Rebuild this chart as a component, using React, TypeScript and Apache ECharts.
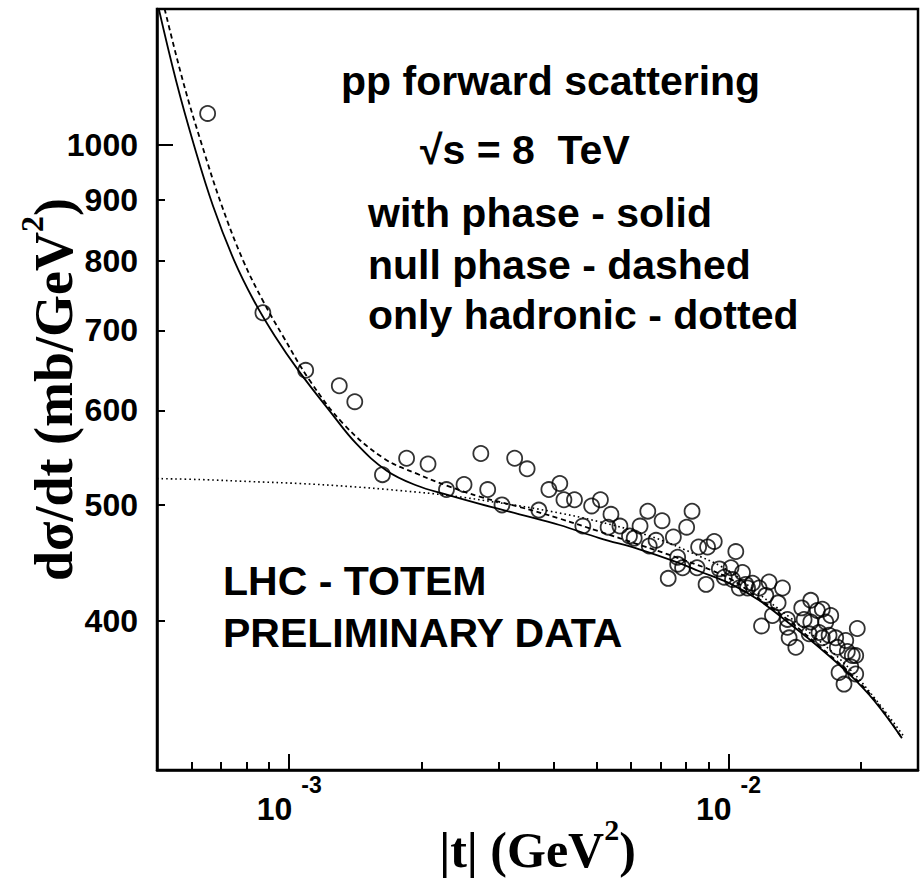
import React, { useEffect, useRef } from "react";
import * as echarts from "echarts";

// ---- measured data (|t| in GeV^2, dσ/dt in mb/GeV^2) ----
const tValues = [
  6.52e-4, 8.71e-4, 1.09e-3, 1.3e-3, 1.41e-3, 1.63e-3, 1.85e-3, 2.07e-3, 2.28e-3, 2.5e-3,
  2.73e-3, 2.83e-3, 3.05e-3, 3.26e-3, 3.48e-3, 3.7e-3, 3.9e-3, 4.13e-3, 4.22e-3, 4.46e-3,
  4.66e-3, 4.88e-3, 5.11e-3, 5.4e-3, 5.32e-3, 5.66e-3, 5.95e-3, 6.1e-3, 6.29e-3, 6.55e-3,
  7.06e-3, 8.26e-3, 8.03e-3, 7.49e-3, 6.84e-3, 6.6e-3, 8.55e-3, 8.96e-3, 9.28e-3, 1.039e-2,
  7.66e-3, 7.66e-3, 7.86e-3, 7.29e-3, 8.48e-3, 8.89e-3, 9.53e-3, 1.013e-2, 9.78e-3, 1.021e-2,
  1.076e-2, 1.095e-2, 1.058e-2, 1.134e-2, 1.105e-2, 1.174e-2, 1.237e-2, 1.327e-2, 1.216e-2, 1.297e-2,
  1.189e-2, 1.259e-2, 1.362e-2, 1.362e-2, 1.374e-2, 1.423e-2, 1.468e-2, 1.539e-2, 1.486e-2, 1.539e-2,
  1.593e-2, 1.635e-2, 1.709e-2, 1.665e-2, 1.607e-2, 1.526e-2, 1.694e-2, 1.754e-2, 1.964e-2, 1.849e-2,
  1.769e-2, 1.864e-2, 1.948e-2, 1.898e-2, 1.785e-2, 1.832e-2, 1.948e-2, 1.635e-2, 1.913e-2,
];
const dsdtValues = [
  1063, 724, 648, 629, 610, 530, 547, 541, 515, 520,
  552, 515, 500, 547, 536, 495, 515, 521, 505, 505,
  480, 499, 505, 491, 479, 480, 471, 469, 480, 494,
  485, 494, 479, 470, 467, 462, 461, 461, 466, 457,
  452, 446, 443, 434, 443, 429, 442, 443, 435, 433,
  439, 429, 426, 430, 426, 426, 431, 426, 420, 414,
  396, 404, 401, 395, 387, 380, 410, 416, 401, 399,
  408, 409, 404, 399, 391, 390, 389, 387, 394, 385,
  380, 377, 374, 366, 362, 354, 361, 387, 374,
];

// with phase - solid
const solidT = [
  5.0e-4, 5.53e-4, 6.07e-4, 6.71e-4, 7.49e-4, 8.31e-4, 9.28e-4, 1.052e-3, 1.237e-3, 1.425e-3,
  1.667e-3, 1.951e-3, 2.283e-3, 2.713e-3, 3.344e-3, 4.124e-3, 5.083e-3, 6.266e-3, 7.727e-3, 8.58e-3,
  1.004e-2, 1.174e-2, 1.374e-2, 1.607e-2, 1.881e-2, 2.144e-2, 2.482e-2,
];
const solidV = [
  1320, 1131, 1000, 889, 801, 741, 692, 647, 599, 562,
  534, 519, 510, 501, 491, 481, 469, 459, 447, 440,
  430, 416, 398, 380, 361, 343, 319,
];

// null phase - dashed
const dashedT = [
  5.15e-4, 5.73e-4, 6.33e-4, 7.03e-4, 7.85e-4, 8.71e-4, 9.68e-4, 1.115e-3, 1.331e-3, 1.641e-3,
  1.951e-3, 2.283e-3, 2.713e-3, 3.344e-3, 4.124e-3, 5.083e-3, 6.266e-3, 7.727e-3, 1.004e-2, 1.174e-2,
  1.374e-2, 1.607e-2, 1.881e-2, 2.144e-2, 2.482e-2,
];
const dashedV = [
  1321, 1131, 1000, 889, 801, 741, 692, 635, 584, 547,
  531, 519, 508, 498, 487, 475, 463, 451, 434, 417,
  400, 381, 362, 344, 319,
];

// only hadronic - dotted
const dottedT = [
  5.0e-4, 6.27e-4, 8.14e-4, 1.058e-3, 1.374e-3, 1.785e-3, 2.319e-3, 3.012e-3, 3.913e-3, 5.083e-3,
  6.604e-3, 8.58e-3, 1.004e-2, 1.174e-2, 1.374e-2, 1.607e-2, 1.881e-2, 2.2e-2, 2.508e-2,
];
const dottedV = [
  526, 525, 523, 521, 518, 514, 509, 502, 494, 484,
  471, 453, 440, 421, 403, 385, 365, 341, 320,
];

// axes
const X_MIN = 5e-4;
const X_MAX = 0.027;
const Y_MIN = 300;
const Y_MAX = 1300;
const xMajorTicks = [1e-3, 1e-2];
const xMinorTicks = [6e-4, 7e-4, 8e-4, 9e-4, 2e-3, 3e-3, 4e-3, 5e-3, 6e-3, 7e-3, 8e-3, 9e-3, 2e-2];
const yLabelValues = [400, 500, 600, 700, 800, 900, 1000];
const yMajorTicks = [1000];
const yMinorTicks = [400, 500, 600, 700, 800, 900];

// texts
const xTitle = ["|t| (GeV", "2", ")"];
const yTitle = ["dσ/dt (mb/GeV", "2", ")"];
const notes = [
  "pp forward scattering",
  "√s = 8  TeV",
  "with phase - solid",
  "null phase - dashed",
  "only hadronic - dotted",
  "LHC - TOTEM",
  "PRELIMINARY DATA",
];

const SANS = "'Liberation Sans', Arial, Helvetica, sans-serif";
const SERIF = "'Liberation Serif', 'Times New Roman', Times, serif";
const lg = (v: number) => Math.log10(v);

export default function App() {
  const ref = useRef<HTMLDivElement>(null);

  useEffect(() => {
    if (!ref.current) return;
    const chart = echarts.init(ref.current, null, { renderer: "svg" });

    const xTickBase = {
      type: "value",
      gridIndex: 0,
      min: lg(X_MIN),
      max: lg(X_MAX),
      position: "bottom",
      axisLine: { show: false },
      splitLine: { show: false },
      silent: true,
    };
    const yTickBase = {
      type: "value",
      gridIndex: 0,
      min: lg(Y_MIN),
      max: lg(Y_MAX),
      position: "left",
      axisLine: { show: false },
      splitLine: { show: false },
      silent: true,
    };
    const tickLine = { color: "#000", width: 2 };

    const noteStyle = (text: string) => ({
      text,
      fontFamily: SANS,
      fontWeight: "bold",
      fontSize: 41,
      fill: "#000",
      align: "left",
      verticalAlign: "middle",
    });
    const notePos = [
      [341, 81],
      [420, 150],
      [368, 213],
      [368, 265],
      [368, 315],
      [223, 581],
      [223, 633],
    ];

    const option: any = {
      animation: false,
      backgroundColor: "#fff",
      grid: {
        left: 157,
        right: 5,
        top: 9,
        bottom: 110,
        show: true,
        borderColor: "#000",
        borderWidth: 2.5,
        backgroundColor: "transparent",
        containLabel: false,
        outerBoundsMode: "none",
      },
      xAxis: [
        {
          type: "log",
          logBase: 10,
          min: X_MIN,
          max: X_MAX,
          position: "bottom",
          axisLine: { show: true, onZero: false, lineStyle: { color: "#000", width: 2.5 } },
          axisTick: { show: false },
          axisLabel: { show: false },
          minorTick: { show: false },
          splitLine: { show: false },
          name: `{a|${xTitle[0]}}{s|${xTitle[1]}}{a|${xTitle[2]}}`,
          nameLocation: "middle",
          nameGap: 44,
          nameMoveOverlap: false,
          nameTextStyle: {
            color: "#000",
            rich: {
              a: { fontFamily: SERIF, fontWeight: "bold", fontSize: 50, lineHeight: 72, color: "#000" },
              s: { fontFamily: SERIF, fontWeight: "bold", fontSize: 30, lineHeight: 30, verticalAlign: "top", color: "#000" },
            },
          },
        },
        {
          ...xTickBase,
          axisTick: { show: true, inside: true, length: 8, customValues: xMinorTicks.map(lg), lineStyle: tickLine },
          axisLabel: { show: false },
        },
        {
          ...xTickBase,
          axisTick: { show: true, inside: true, length: 16, customValues: xMajorTicks.map(lg), lineStyle: tickLine },
          axisLabel: {
            show: true,
            customValues: xMajorTicks.map(lg),
            margin: 3,
            formatter: (v: number) => `{b|10 }{s|${Math.round(v)}}`,
            rich: {
              b: { fontFamily: SANS, fontWeight: "bold", fontSize: 32, lineHeight: 72, color: "#000" },
              s: { fontFamily: SANS, fontWeight: "bold", fontSize: 23, lineHeight: 23, verticalAlign: "top", color: "#000" },
            },
          },
        },
      ],
      yAxis: [
        {
          type: "log",
          logBase: 10,
          min: Y_MIN,
          max: Y_MAX,
          position: "left",
          axisLine: { show: true, onZero: false, lineStyle: { color: "#000", width: 2.5 } },
          axisTick: { show: false },
          axisLabel: { show: false },
          minorTick: { show: false },
          splitLine: { show: false },
          name: `{a|${yTitle[0]}}{s|${yTitle[1]}}{a|${yTitle[2]}}`,
          nameLocation: "middle",
          nameRotate: 90,
          nameGap: 65,
          nameMoveOverlap: false,
          nameTextStyle: {
            color: "#000",
            rich: {
              a: { fontFamily: SERIF, fontWeight: "bold", fontSize: 54, lineHeight: 76, color: "#000" },
              s: { fontFamily: SERIF, fontWeight: "bold", fontSize: 32, lineHeight: 32, verticalAlign: "top", color: "#000" },
            },
          },
        },
        {
          ...yTickBase,
          axisTick: { show: true, inside: true, length: 8, customValues: yMinorTicks.map(lg), lineStyle: tickLine },
          axisLabel: {
            show: true,
            customValues: yLabelValues.map(lg),
            margin: 19,
            formatter: (v: number) => String(Math.round(Math.pow(10, v))),
            fontFamily: SANS,
            fontWeight: "bold",
            fontSize: 32,
            color: "#000",
          },
        },
        {
          ...yTickBase,
          axisTick: { show: true, inside: true, length: 16, customValues: yMajorTicks.map(lg), lineStyle: tickLine },
          axisLabel: { show: false },
        },
      ],
      series: [
        {
          name: "with phase",
          type: "line",
          xAxisIndex: 0,
          yAxisIndex: 0,
          data: solidT.map((t, i) => [t, solidV[i]]),
          symbol: "none",
          showSymbol: false,
          smooth: 0.4,
          silent: true,
          lineStyle: { color: "#000", width: 1.8, type: "solid" },
          z: 3,
        },
        {
          name: "null phase",
          type: "line",
          xAxisIndex: 0,
          yAxisIndex: 0,
          data: dashedT.map((t, i) => [t, dashedV[i]]),
          symbol: "none",
          showSymbol: false,
          smooth: 0.4,
          silent: true,
          lineStyle: { color: "#000", width: 1.8, type: [5, 3.5] },
          z: 3,
        },
        {
          name: "only hadronic",
          type: "line",
          xAxisIndex: 0,
          yAxisIndex: 0,
          data: dottedT.map((t, i) => [t, dottedV[i]]),
          symbol: "none",
          showSymbol: false,
          smooth: 0.4,
          silent: true,
          lineStyle: { color: "#000", width: 1.6, type: [1.6, 3] },
          z: 3,
        },
        {
          name: "TOTEM",
          type: "scatter",
          xAxisIndex: 0,
          yAxisIndex: 0,
          data: tValues.map((t, i) => [t, dsdtValues[i]]),
          symbol: "circle",
          symbolSize: 15,
          itemStyle: { color: "transparent", borderColor: "#000", borderWidth: 1.8 },
          z: 4,
        },
      ],
      graphic: notes.map((text, i) => ({
        type: "text",
        x: notePos[i][0],
        y: notePos[i][1],
        silent: true,
        z: 10,
        style: noteStyle(text),
      })),
    };

    chart.setOption(option);
    return () => chart.dispose();
  }, []);

  return (
    <div
      ref={ref}
      style={{ position: "absolute", left: 0, top: 0, width: 923, height: 880, background: "#fff" }}
    />
  );
}
